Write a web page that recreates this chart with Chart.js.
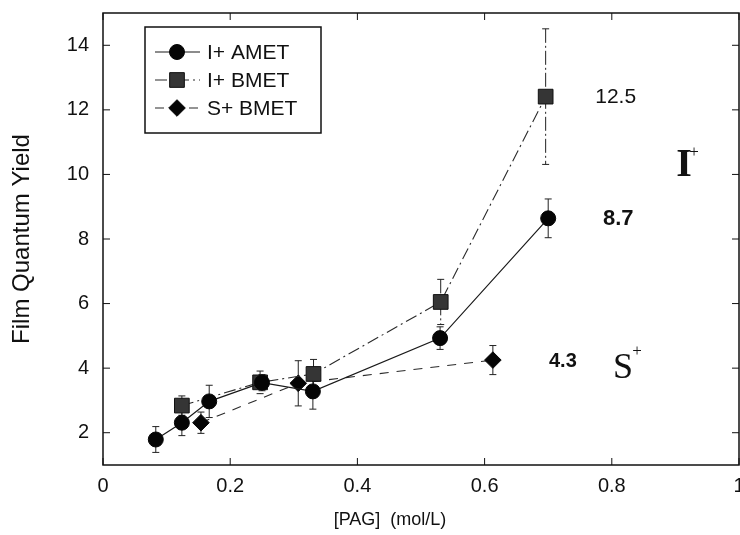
<!DOCTYPE html>
<html>
<head>
<meta charset="utf-8">
<script src="https://cdn.jsdelivr.net/npm/chart.js@4.4.0/dist/chart.umd.min.js"></script>
<style>
  html, body { margin: 0; padding: 0; background: #fff; }
  #wrap { width: 740px; height: 535px; }
</style>
</head>
<body>
<div id="wrap"><canvas id="qyChart" width="740" height="535"></canvas></div>
<script>
// tick labels
var xTicks = [0, 0.2, 0.4, 0.6, 0.8, 1];
var yTicks = [2, 4, 6, 8, 10, 12, 14];

// I+ AMET
var ametX   = [0.083, 0.124, 0.167, 0.25, 0.33, 0.53, 0.70];
var ametY   = [1.79, 2.31, 2.97, 3.55, 3.28, 4.93, 8.64];
var ametErr = [0.4, 0.4, 0.5, 0.25, 0.55, 0.35, 0.6];

// I+ BMET
var bmetX   = [0.124, 0.247, 0.331, 0.531, 0.696];
var bmetY   = [2.84, 3.56, 3.82, 6.05, 12.41];
var bmetErr = [0.3, 0.35, 0.45, 0.7, 2.1];

// S+ BMET
var sbmetX   = [0.154, 0.307, 0.613];
var sbmetY   = [2.31, 3.53, 4.25];
var sbmetErr = [0.33, 0.7, 0.45];

// value written next to the last point of each series
var endLabels = ['8.7', '12.5', '4.3'];

function pts(xs, ys) {
  return xs.map(function (x, i) { return { x: x, y: ys[i] }; });
}

var SANS = '"Liberation Sans", Arial, sans-serif';
var SERIF = '"Liberation Serif", "Times New Roman", serif';

// error bars, under the markers
var errorBars = {
  id: 'errorBars',
  beforeDatasetsDraw: function (chart) {
    var c = chart.ctx, xs = chart.scales.x, ys = chart.scales.y;
    chart.data.datasets.forEach(function (ds) {
      c.save();
      c.strokeStyle = '#222';
      c.lineWidth = 1;
      ds.data.forEach(function (p, i) {
        var e = ds.errors[i];
        var px = xs.getPixelForValue(p.x);
        var top = ys.getPixelForValue(p.y + e), bot = ys.getPixelForValue(p.y - e);
        c.setLineDash(ds.errDash || []);
        c.beginPath();
        c.moveTo(px, top); c.lineTo(px, bot);
        c.stroke();
        c.setLineDash([]);
        c.beginPath();
        c.moveTo(px - 3.5, top); c.lineTo(px + 3.5, top);
        c.moveTo(px - 3.5, bot); c.lineTo(px + 3.5, bot);
        c.stroke();
      });
      c.restore();
    });
  }
};

// box frame with inward ticks on all four sides
var frame = {
  id: 'frame',
  afterDraw: function (chart) {
    var c = chart.ctx, a = chart.chartArea, xs = chart.scales.x, ys = chart.scales.y;
    c.save();
    c.strokeStyle = '#111';
    c.lineWidth = 1.5;
    c.strokeRect(a.left, a.top, a.right - a.left, a.bottom - a.top);
    c.lineWidth = 1;
    c.beginPath();
    xTicks.forEach(function (v) {
      var px = xs.getPixelForValue(v);
      c.moveTo(px, a.bottom); c.lineTo(px, a.bottom - 7);
      c.moveTo(px, a.top); c.lineTo(px, a.top + 7);
    });
    yTicks.forEach(function (v) {
      var py = ys.getPixelForValue(v);
      c.moveTo(a.left, py); c.lineTo(a.left + 7, py);
      c.moveTo(a.right, py); c.lineTo(a.right - 7, py);
    });
    c.stroke();
    c.restore();
  }
};

// legend box in the upper left
var boxLegend = {
  id: 'boxLegend',
  afterDraw: function (chart) {
    var c = chart.ctx;
    c.save();
    c.strokeStyle = '#111';
    c.lineWidth = 1.5;
    c.strokeRect(145, 27, 176, 106);
    chart.data.datasets.forEach(function (ds, i) {
      var y = 52 + i * 28;
      c.strokeStyle = ds.borderColor;
      c.lineWidth = ds.borderWidth;
      c.setLineDash(ds.borderDash || []);
      c.beginPath();
      c.moveTo(155, y); c.lineTo(200, y);
      c.stroke();
      c.setLineDash([]);
      c.fillStyle = ds.pointBackgroundColor;
      c.strokeStyle = ds.pointBorderColor;
      c.lineWidth = ds.pointBorderWidth;
      Chart.helpers.drawPoint(c, {
        pointStyle: ds.pointStyle, radius: ds.pointRadius,
        borderWidth: ds.pointBorderWidth
      }, 177, y);
      c.fillStyle = '#111';
      c.font = '21px ' + SANS;
      c.textBaseline = 'middle';
      c.fillText(ds.label, 207, y + 1);
    });
    c.restore();
  }
};

// end values, ion labels and the x axis title
var notes = {
  id: 'notes',
  afterDraw: function (chart) {
    var c = chart.ctx, xs = chart.scales.x, ys = chart.scales.y;
    var fonts = ['bold 22px ' + SANS, '21px ' + SANS, 'bold 20px ' + SANS];
    c.save();
    c.fillStyle = '#111';
    c.textAlign = 'center';
    c.textBaseline = 'middle';
    chart.data.datasets.forEach(function (ds, i) {
      var last = ds.data[ds.data.length - 1];
      c.font = fonts[i];
      c.fillText(endLabels[i], xs.getPixelForValue(last.x) + 70, ys.getPixelForValue(last.y) + 1);
    });
    // I+ and S+
    var ix = xs.getPixelForValue(0.9135), iy = ys.getPixelForValue(10.32);
    c.font = 'bold 40px ' + SERIF;
    c.fillText('I', ix, iy + 2);
    c.font = '17px ' + SERIF;
    c.fillText('+', ix + 10, iy - 12);
    var sx = xs.getPixelForValue(0.8176), sy = ys.getPixelForValue(4.04);
    c.font = '36px ' + SERIF;
    c.fillText('S', sx, sy + 2);
    c.font = '17px ' + SERIF;
    c.fillText('+', sx + 14, sy - 15);
    // x axis title
    c.font = '18px ' + SANS;
    c.fillText('[PAG]  (mol/L)', 390, 520);
    c.restore();
  }
};

var tickFont = { family: SANS, size: 20 };

new Chart(document.getElementById('qyChart').getContext('2d'), {
  type: 'scatter',
  data: {
    datasets: [{
      label: 'I+ AMET',
      data: pts(ametX, ametY),
      errors: ametErr,
      showLine: true,
      borderColor: '#1a1a1a',
      borderWidth: 1.2,
      pointStyle: 'circle',
      pointRadius: 7.5,
      pointBackgroundColor: '#050505',
      pointBorderColor: '#050505',
      pointBorderWidth: 1
    }, {
      label: 'I+ BMET',
      data: pts(bmetX, bmetY),
      errors: bmetErr,
      errDash: [14, 3, 2, 3],
      showLine: true,
      borderColor: '#2a2a2a',
      borderWidth: 1.1,
      borderDash: [12, 4, 2, 4],
      pointStyle: 'rect',
      pointRadius: 10.4,
      pointBackgroundColor: '#353535',
      pointBorderColor: '#111',
      pointBorderWidth: 1
    }, {
      label: 'S+ BMET',
      data: pts(sbmetX, sbmetY),
      errors: sbmetErr,
      showLine: true,
      borderColor: '#2a2a2a',
      borderWidth: 1.1,
      borderDash: [9, 8],
      pointStyle: 'rectRot',
      pointRadius: 8.3,
      pointBackgroundColor: '#050505',
      pointBorderColor: '#050505',
      pointBorderWidth: 1
    }]
  },
  options: {
    responsive: false,
    animation: false,
    events: [],
    layout: { autoPadding: false, padding: { top: 13, right: 1, left: 0, bottom: 0 } },
    plugins: { legend: { display: false }, tooltip: { enabled: false } },
    scales: {
      x: {
        type: 'linear', min: 0, max: 1,
        afterBuildTicks: function (s) { s.ticks = xTicks.map(function (v) { return { value: v }; }); },
        afterFit: function (s) {
          s.height = 70;
          s.paddingLeft = 0; s.paddingRight = 0; s.paddingTop = 0; s.paddingBottom = 0;
        },
        grid: { display: false, drawTicks: false },
        border: { display: false },
        ticks: { padding: 9, color: '#111', font: tickFont, maxRotation: 0,
                 callback: function (v) { return String(v); } }
      },
      y: {
        type: 'linear', min: 1, max: 15,
        afterBuildTicks: function (s) { s.ticks = yTicks.map(function (v) { return { value: v }; }); },
        afterFit: function (s) {
          s.width = 103;
          s.paddingLeft = 0; s.paddingRight = 0; s.paddingTop = 0; s.paddingBottom = 0;
        },
        grid: { display: false, drawTicks: false },
        border: { display: false },
        ticks: { padding: 14, color: '#111', font: tickFont,
                 callback: function (v) { return String(v); } },
        title: { display: true, text: 'Film Quantum Yield', color: '#111',
                 font: { family: SANS, size: 24 }, padding: { top: 8, bottom: 0 } }
      }
    }
  },
  plugins: [errorBars, frame, boxLegend, notes]
});
</script>
</body>
</html>
